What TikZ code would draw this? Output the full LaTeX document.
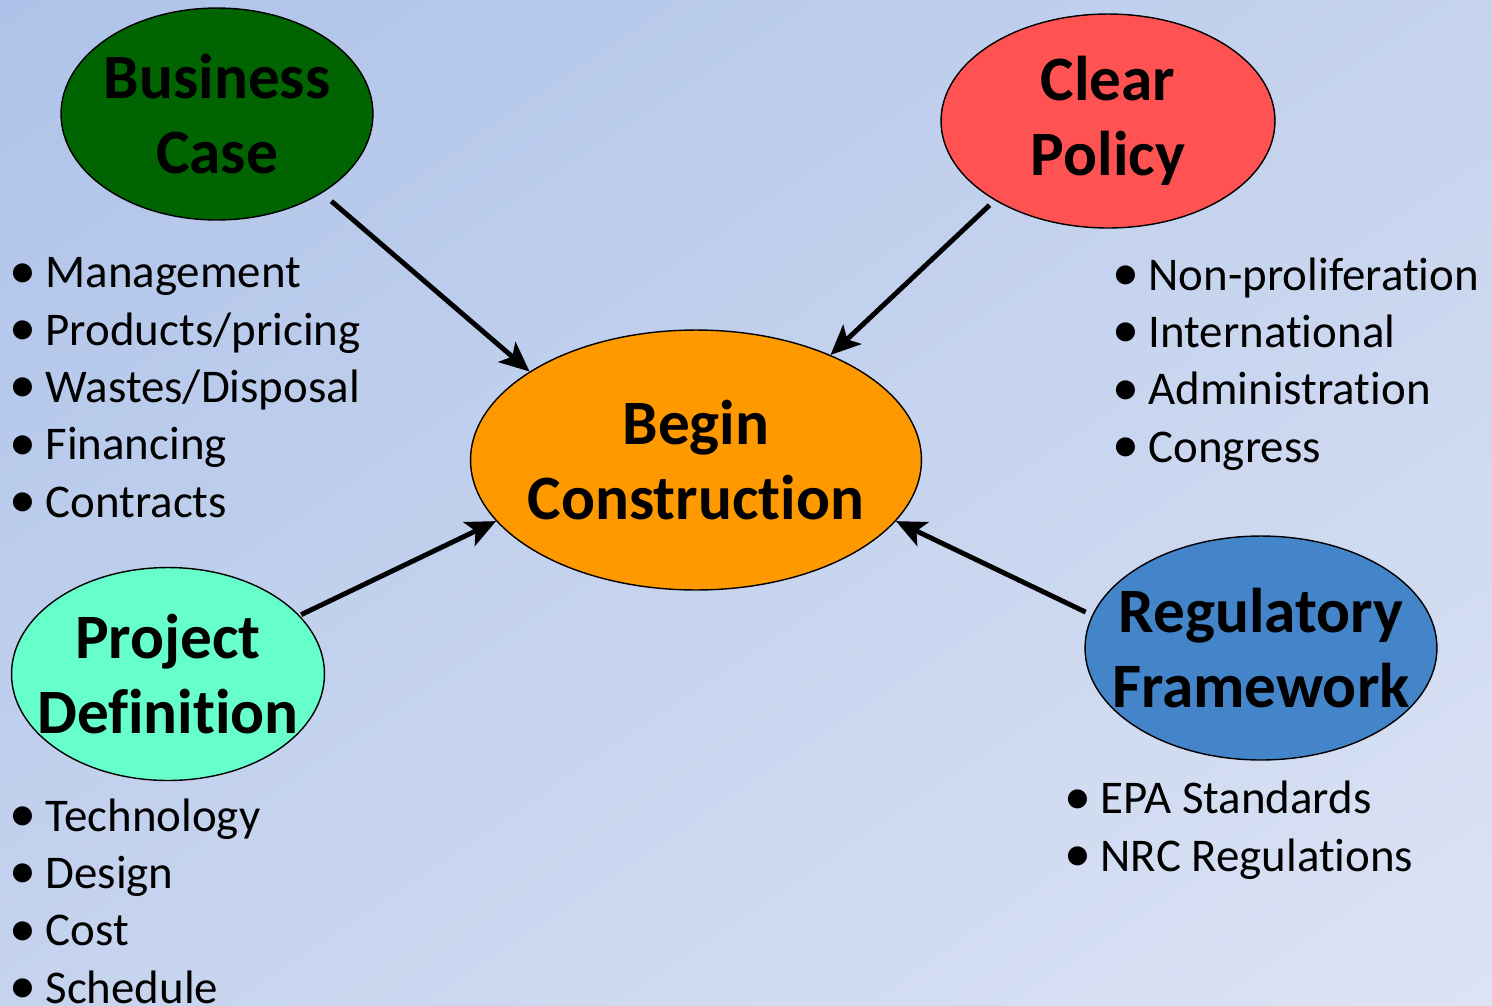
\documentclass[tikz,border=0pt]{standalone}
\usepackage{fontspec}
\setmainfont{Carlito}[Ligatures={NoCommon,NoContextual}, RawFeature={-liga;-clig;-calt}]
\usepackage{xcolor}
\usepackage{tikz}
\usetikzlibrary{arrows.meta, shapes.geometric, shadings}

\definecolor{bgTL}{RGB}{174,195,233}
\definecolor{bgMid}{RGB}{197,211,238}
\definecolor{bgBR}{RGB}{220,227,244}
\definecolor{caseGreen}{RGB}{0,100,0}
\definecolor{policyRed}{RGB}{255,83,83}
\definecolor{beginOrange}{RGB}{255,153,0}
\definecolor{projAqua}{RGB}{102,255,204}
\definecolor{regBlue}{RGB}{68,132,200}

\newcommand{\itemdot}{\raisebox{-0.01em}{\scalebox{1.15}{\textbullet}}\hspace{0.2em}}

\begin{document}
\begin{tikzpicture}[
  x=0.02cm, y=-0.02cm,
  goal/.style={ellipse, draw=black, line width=0.8pt, inner xsep=-17pt, inner ysep=0pt,
    align=center, font=\fontsize{36}{43}\selectfont\bfseries},
  items/.style={anchor=base west, align=left, inner sep=0pt, % base = last line
    font=\fontsize{26.7}{32.6}\selectfont},
  push/.style={line width=2.8pt, -{Stealth[length=17pt, width=15pt, inset=4pt]}}]

\shade[upper left=bgTL, lower right=bgBR, upper right=bgMid, lower left=bgMid]
  (0,0) rectangle (1492,1005);
\useasboundingbox (0,0) rectangle (1492,1005);

\node[goal, fill=beginOrange, minimum width=9.02cm, minimum height=5.2cm] (begin) at (696,460) {Begin\\Construction};
\node[goal, fill=caseGreen, minimum width=6.24cm, minimum height=4.24cm] (case) at (217,114) {Business\\Case};
\node[goal, fill=policyRed, minimum width=6.68cm, minimum height=4.28cm] (policy) at (1108,121) {Clear\\Policy};
\node[goal, fill=projAqua, minimum width=6.26cm, minimum height=4.26cm] (project) at (168,674) {Project\\Definition};
\node[goal, fill=regBlue, minimum width=7.04cm, minimum height=4.48cm] (reg) at (1261,648) {Regulatory\\Framework};

\node[items] (caseList) at (9,517) {\itemdot Management\\ \itemdot Products/pricing\\ \itemdot Wastes/Disposal\\ \itemdot Financing\\ \itemdot Contracts};
\node[items] (policyList) at (1112,462) {\itemdot Non-proliferation\\ \itemdot International\\ \itemdot Administration\\ \itemdot Congress};
\node[items] (projectList) at (9,1003) {\itemdot Technology\\ \itemdot Design\\ \itemdot Cost\\ \itemdot Schedule};
\node[items] (regList) at (1064,871) {\itemdot EPA Standards\\ \itemdot NRC Regulations};

\draw[push, shorten <=7pt] (case.-37) -- (begin.152);
\draw[push, shorten <=4pt] (policy.-145) -- (begin.38);
\draw[push, shorten <=1pt] (project.24) -- (begin.-163);
\draw[push, shorten <=4pt] (reg.169) -- (begin.-17);
\end{tikzpicture}
\end{document}
